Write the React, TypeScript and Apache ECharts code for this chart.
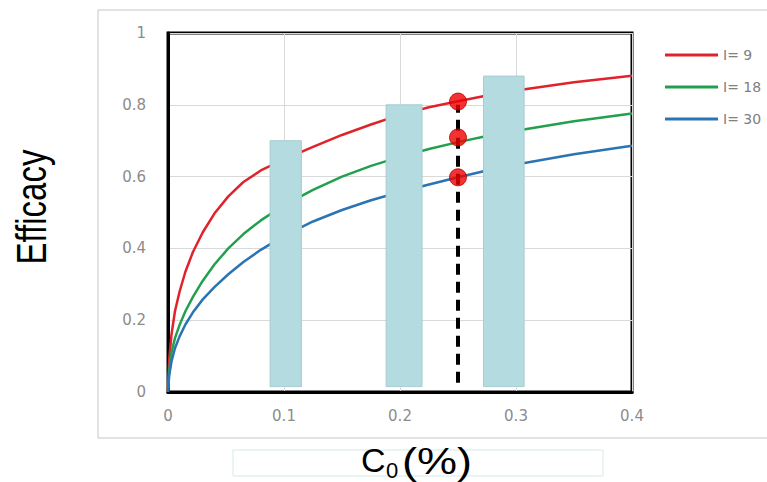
import React, { useEffect, useRef } from "react";
import * as echarts from "echarts";

// ---- data ----
const seriesNames = ["I= 9", "I= 18", "I= 30"];
const seriesColors = ["#e0232b", "#22a04e", "#2b74b3"];

const curveI9: [number, number][] = [
  [0, 0], [0.001, 0.09], [0.003, 0.16], [0.006, 0.225], [0.01, 0.28], [0.015, 0.335],
  [0.0215, 0.39], [0.03, 0.445], [0.04, 0.497], [0.052, 0.545], [0.065, 0.585],
  [0.08, 0.617], [0.1, 0.648], [0.125, 0.683], [0.15, 0.716], [0.175, 0.745],
  [0.2, 0.772], [0.225, 0.793], [0.25, 0.81], [0.275, 0.826], [0.3, 0.84],
  [0.35, 0.863], [0.4, 0.881],
];
const curveI18: [number, number][] = [
  [0, 0], [0.001, 0.06], [0.003, 0.11], [0.006, 0.15], [0.01, 0.187], [0.015, 0.225],
  [0.0215, 0.265], [0.03, 0.31], [0.04, 0.355], [0.052, 0.4], [0.065, 0.44],
  [0.08, 0.478], [0.1, 0.52], [0.125, 0.563], [0.15, 0.6], [0.175, 0.63],
  [0.2, 0.655], [0.225, 0.677], [0.25, 0.696], [0.275, 0.713], [0.3, 0.728],
  [0.35, 0.754], [0.4, 0.776],
];
const curveI30: [number, number][] = [
  [0, 0], [0.001, 0.045], [0.003, 0.085], [0.006, 0.122], [0.01, 0.155], [0.015, 0.188],
  [0.0215, 0.222], [0.03, 0.258], [0.04, 0.292], [0.052, 0.328], [0.065, 0.362],
  [0.08, 0.396], [0.1, 0.435], [0.125, 0.475], [0.15, 0.507], [0.175, 0.534],
  [0.2, 0.557], [0.225, 0.578], [0.25, 0.598], [0.275, 0.617], [0.3, 0.634],
  [0.35, 0.662], [0.4, 0.686],
];

// bars: x start, x end, bottom, top
const barStart = [0.088, 0.188, 0.272];
const barEnd = [0.115, 0.219, 0.307];
const barBottom = [0.015, 0.015, 0.015];
const barTop = [0.7, 0.8, 0.88];

// dashed marker at C0 = 0.25
const markerX = 0.25;
const dashedLine: [number, number][] = [[0.25, 0.026], [0.25, 0.8]];
const dotValues = [0.809, 0.709, 0.598];

const xTicks = { min: 0, max: 0.4, interval: 0.1 };
const yTicks = { min: 0, max: 1, interval: 0.2 };

export default function App() {
  const ref = useRef<HTMLDivElement>(null);

  useEffect(() => {
    document.body.style.margin = "0";
    if (!ref.current) return;
    const chart = echarts.init(ref.current, null, { renderer: "svg" });

    const curves = [curveI9, curveI18, curveI30];
    const lineSeries = curves.map((d, i) => ({
      name: seriesNames[i],
      type: "line",
      data: d,
      showSymbol: false,
      smooth: false,
      lineStyle: { color: seriesColors[i], width: 2.5, join: "round" },
      itemStyle: { color: seriesColors[i] },
      z: 2,
    }));

    const barData = barStart.map((s, i) => [s, barEnd[i], barBottom[i], barTop[i]]);

    const option: any = {
      animation: false,
      backgroundColor: "#ffffff",
      grid: {
        left: 168,
        right: 135,
        top: 33,
        bottom: 90,
        show: true,
        borderColor: "#000000",
        borderWidth: 3,
        backgroundColor: "transparent",
      },
      legend: {
        orient: "vertical",
        left: 660,
        top: 43,
        icon: "rect",
        itemWidth: 53,
        itemHeight: 3,
        itemGap: 18,
        data: seriesNames,
        textStyle: { color: "#808080", fontSize: 14, fontFamily: "DejaVu Sans" },
      },
      xAxis: {
        type: "value",
        min: xTicks.min,
        max: xTicks.max,
        interval: xTicks.interval,
        axisLine: { show: true, lineStyle: { color: "#000", width: 3 } },
        axisTick: { show: false },
        splitLine: { show: true, lineStyle: { color: "#d9d9d9", width: 1 } },
        axisLabel: {
          margin: 16,
          color: "#8c8c8c",
          fontSize: 15,
          fontFamily: "DejaVu Sans",
          formatter: (v: number) => String(+v.toFixed(1)),
        },
      },
      yAxis: {
        type: "value",
        min: yTicks.min,
        max: yTicks.max,
        interval: yTicks.interval,
        axisLine: { show: true, lineStyle: { color: "#000", width: 3 } },
        axisTick: { show: false },
        splitLine: { show: true, lineStyle: { color: "#d9d9d9", width: 1 } },
        axisLabel: {
          margin: 22,
          color: "#8c8c8c",
          fontSize: 15,
          fontFamily: "DejaVu Sans",
          formatter: (v: number) => String(+v.toFixed(1)),
        },
      },
      series: [
        ...lineSeries,
        {
          type: "custom",
          name: "bars",
          z: 3,
          data: barData,
          renderItem: (params: any, api: any) => {
            const p0 = api.coord([api.value(0), api.value(3)]);
            const p1 = api.coord([api.value(1), api.value(2)]);
            return {
              type: "rect",
              shape: { x: p0[0], y: p0[1], width: p1[0] - p0[0], height: p1[1] - p0[1] },
              style: { fill: "#b3dbe0", stroke: "#a6cdd2", lineWidth: 1 },
            };
          },
        },
        {
          type: "line",
          name: "marker",
          data: dashedLine,
          showSymbol: false,
          z: 4,
          lineStyle: { color: "#000", width: 4, type: [11, 7] },
        },
        {
          type: "scatter",
          name: "dots",
          data: dotValues.map((v) => [markerX, v]),
          symbolSize: 17,
          z: 5,
          itemStyle: { color: "#f00000", borderColor: "#b00000", borderWidth: 1 },
        },
      ],
      graphic: [
        {
          type: "rect",
          z: -10,
          shape: { x: 98, y: 10, width: 680, height: 428 },
          style: { fill: "none", stroke: "#d9d9d9", lineWidth: 1.5 },
        },
        {
          type: "rect",
          shape: { x: 233, y: 450, width: 370, height: 26 },
          style: { fill: "none", stroke: "#d3e9ea", lineWidth: 1 },
        },
        {
          type: "text",
          x: 31,
          y: 207,
          rotation: Math.PI / 2,
          scaleY: 1.3,
          style: {
            text: "Efficacy",
            fontSize: 33,
            fontFamily: "Liberation Sans",
            fill: "#000",
            align: "center",
            verticalAlign: "middle",
          },
        },
        {
          type: "text",
          x: 361,
          y: 443,
          style: {
            text: "C",
            fontSize: 34,
            fontFamily: "Liberation Sans",
            fill: "#000",
            align: "left",
            verticalAlign: "top",
          },
        },
        {
          type: "text",
          x: 386,
          y: 459,
          style: {
            text: "0",
            fontSize: 22,
            fontFamily: "Liberation Sans",
            fill: "#000",
            align: "left",
            verticalAlign: "top",
          },
        },
        {
          type: "text",
          x: 402,
          y: 444,
          scaleX: 1.25,
          style: {
            text: "(%)",
            fontSize: 36,
            fontFamily: "Liberation Sans",
            fill: "#000",
            align: "left",
            verticalAlign: "top",
          },
        },
      ],
    };

    chart.setOption(option);
    return () => chart.dispose();
  }, []);

  return <div ref={ref} style={{ width: 767, height: 482 }} />;
}
